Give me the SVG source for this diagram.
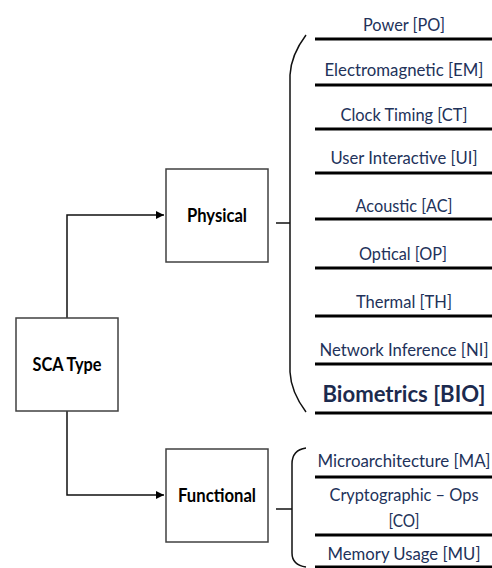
<svg xmlns="http://www.w3.org/2000/svg" width="492" height="568" viewBox="0 0 492 568">
<style>
.box{fill:#fff;stroke:#404040;stroke-width:1.5}
.conn{fill:none;stroke:#111;stroke-width:1.5}
.brace{fill:none;stroke:#111;stroke-width:1.5}
.rule{stroke:#000;stroke-width:3}
.lbl{font-family:Lato,"Open Sans",sans-serif;font-size:17.5px;fill:#22325a;text-anchor:middle}
.lbl.w{font-size:17px}
.big{font-family:Lato,"Open Sans",sans-serif;font-size:23px;font-weight:bold;fill:#1c2a4e;text-anchor:middle}
.node{font-family:Lato,"Open Sans",sans-serif;font-size:18.5px;font-weight:bold;fill:#000;text-anchor:middle}
</style>
<defs>
<marker id="ah" markerWidth="10" markerHeight="10" refX="8" refY="5" orient="auto" markerUnits="userSpaceOnUse">
<path d="M0,1 L8,5 L0,9 Z" fill="#000"/>
</marker>
</defs>
<g id="connectors">
<path class="conn" d="M67,318 V215 H164" marker-end="url(#ah)"/>
<path class="conn" d="M67,411 V495 H164" marker-end="url(#ah)"/>
<path class="conn" d="M276,223 H290"/>
<path class="conn" d="M276,509 H292"/>
</g>
<g id="sca">
<rect class="box" x="16" y="318" width="102" height="93"/>
<text class="node" x="67" y="371" textLength="69" lengthAdjust="spacingAndGlyphs">SCA Type</text>
</g>
<g id="physical">
<rect class="box" x="166" y="169" width="102" height="93"/>
<text class="node" x="217" y="222" textLength="60" lengthAdjust="spacingAndGlyphs">Physical</text>
</g>
<g id="functional">
<rect class="box" x="166" y="449" width="102" height="93"/>
<text class="node" x="217" y="502" textLength="78" lengthAdjust="spacingAndGlyphs">Functional</text>
</g>
<g id="physical-brace">
<path class="brace" d="M306,35 Q291,55 290,75 V372 Q291,392 306,412"/>
</g>
<g id="functional-brace">
<path class="brace" d="M306,448 Q292,450 292,464 V553 Q292,565 306,567"/>
</g>
<g id="physical-list">
<text class="lbl" x="404" y="31" textLength="82" lengthAdjust="spacingAndGlyphs">Power [PO]</text>
<line class="rule" x1="315" y1="39" x2="492" y2="39"/>
<text class="lbl" x="404" y="76" textLength="159" lengthAdjust="spacingAndGlyphs">Electromagnetic [EM]</text>
<line class="rule" x1="315" y1="85" x2="492" y2="85"/>
<text class="lbl" x="404" y="121" textLength="127" lengthAdjust="spacingAndGlyphs">Clock Timing [CT]</text>
<line class="rule" x1="315" y1="129" x2="492" y2="129"/>
<text class="lbl" x="404" y="164" textLength="147" lengthAdjust="spacingAndGlyphs">User Interactive [UI]</text>
<line class="rule" x1="315" y1="173" x2="492" y2="173"/>
<text class="lbl" x="404" y="212" textLength="97" lengthAdjust="spacingAndGlyphs">Acoustic [AC]</text>
<line class="rule" x1="315" y1="219" x2="492" y2="219"/>
<text class="lbl" x="403" y="260" textLength="88" lengthAdjust="spacingAndGlyphs">Optical [OP]</text>
<line class="rule" x1="315" y1="268" x2="492" y2="268"/>
<text class="lbl" x="404" y="308" textLength="96" lengthAdjust="spacingAndGlyphs">Thermal [TH]</text>
<line class="rule" x1="315" y1="316" x2="492" y2="316"/>
<text class="lbl w" x="404" y="356" textLength="169" lengthAdjust="spacingAndGlyphs">Network Inference [NI]</text>
<line class="rule" x1="315" y1="364" x2="492" y2="364"/>
<text class="big" x="404" y="402" textLength="163" lengthAdjust="spacingAndGlyphs">Biometrics [BIO]</text>
<line class="rule" x1="315" y1="413" x2="492" y2="413"/>
</g>
<g id="functional-list">
<text class="lbl w" x="404" y="467" textLength="173" lengthAdjust="spacingAndGlyphs">Microarchitecture [MA]</text>
<line class="rule" x1="315" y1="477" x2="492" y2="477"/>
<text class="lbl" x="404" y="501" textLength="149" lengthAdjust="spacingAndGlyphs">Cryptographic – Ops</text>
<text class="lbl" x="404" y="527" textLength="31" lengthAdjust="spacingAndGlyphs">[CO]</text>
<line class="rule" x1="315" y1="535" x2="492" y2="535"/>
<text class="lbl" x="404" y="560" textLength="153" lengthAdjust="spacingAndGlyphs">Memory Usage [MU]</text>
<line class="rule" x1="315" y1="567" x2="492" y2="567"/>
</g>
</svg>
